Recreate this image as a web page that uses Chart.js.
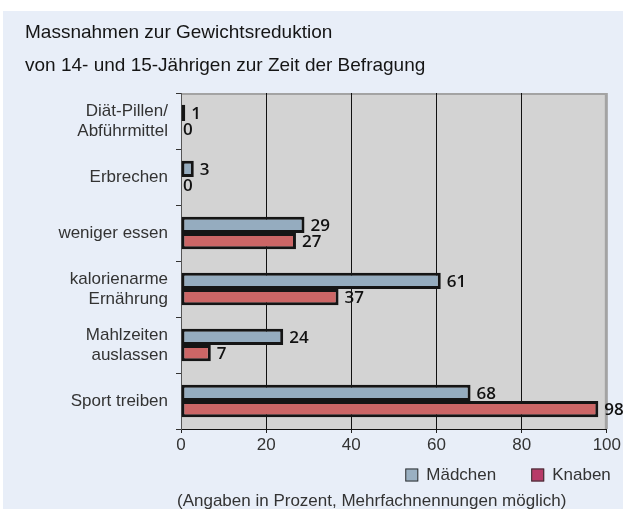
<!DOCTYPE html>
<html>
<head>
<meta charset="utf-8">
<script src="https://cdn.jsdelivr.net/npm/chart.js@4/dist/chart.umd.min.js"></script>
<style>
  html, body { margin: 0; padding: 0; background: #fff; }
  #panel { position: absolute; left: 3px; top: 11px; width: 620px; height: 498px; background: #e8eef8; }
  #wrap { position: absolute; left: 0; top: 0; width: 623px; height: 509px; }
</style>
</head>
<body>
<div id="panel"></div>
<div id="wrap"><canvas id="chart"></canvas></div>
<script>
const categories = [
  ['Diät-Pillen/', 'Abführmittel'],
  'Erbrechen',
  'weniger essen',
  ['kalorienarme', 'Ernährung'],
  ['Mahlzeiten', 'auslassen'],
  'Sport treiben'
];
const maedchen = [1, 3, 29, 61, 24, 68];
const knaben = [0, 0, 27, 37, 7, 98];
const xTicks = [0, 20, 40, 60, 80, 100];
const seriesNames = ['Mädchen', 'Knaben'];
const titleLines = ['Massnahmen zur Gewichtsreduktion', 'von 14- und 15-Jährigen zur Zeit der Befragung'];
const footnote = '(Angaben in Prozent, Mehrfachnennungen möglich)';

const FONT = '"Liberation Sans", Arial, sans-serif';
const legendColors = ['#9ab0c2', '#b83a68'];

// grey plot area with the darker edge on top and right
const plotBackground = {
  id: 'plotBackground',
  beforeDraw(chart) {
    const { ctx, chartArea: a } = chart;
    ctx.save();
    ctx.fillStyle = '#d3d3d3';
    ctx.fillRect(a.left, a.top, a.right - a.left, a.bottom - a.top);
    ctx.fillStyle = '#a3a3a3';
    ctx.fillRect(a.left, a.top, a.right - a.left, 2);
    ctx.fillRect(a.right - 2, a.top, 3, a.bottom - a.top);
    ctx.restore();
  }
};

// numbers next to the bar ends
const valueLabels = {
  id: 'valueLabels',
  afterDatasetsDraw(chart) {
    const ctx = chart.ctx;
    ctx.save();
    ctx.font = '600 17px "Open Sans", sans-serif';
    ctx.fillStyle = '#111';
    ctx.textBaseline = 'middle';
    ctx.textAlign = 'left';
    chart.data.datasets.forEach((ds, i) => {
      chart.getDatasetMeta(i).data.forEach((bar, j) => {
        const v = ds.data[j];
        const x = v === 0 ? bar.base + 2 : bar.x + 6;
        ctx.fillText(String(v), x, bar.y + 1);
      });
    });
    ctx.restore();
  }
};

// legend at bottom right and the footnote
const bottomLegend = {
  id: 'bottomLegend',
  afterDraw(chart) {
    const { ctx, chartArea } = chart;
    ctx.save();
    ctx.font = '17px ' + FONT;
    ctx.textBaseline = 'middle';
    ctx.textAlign = 'left';
    const y = chartArea.bottom + 46;
    let x = chartArea.right + 4;
    for (let i = seriesNames.length - 1; i >= 0; i--) {
      x -= ctx.measureText(seriesNames[i]).width;
      ctx.fillStyle = '#333';
      ctx.fillText(seriesNames[i], x, y);
      x -= 8 + 13;
      ctx.fillStyle = legendColors[i];
      ctx.fillRect(x, y - 6.5, 13, 13);
      ctx.strokeStyle = '#333';
      ctx.lineWidth = 1;
      ctx.strokeRect(x + 0.5, y - 6, 12, 12);
      x -= 35;
    }
    ctx.fillStyle = '#333';
    ctx.fillText(footnote, 177, chartArea.bottom + 72);
    ctx.restore();
  }
};

new Chart(document.getElementById('chart'), {
  type: 'bar',
  data: {
    labels: categories,
    datasets: [
      { label: seriesNames[0], data: maedchen, backgroundColor: '#95acbf' },
      { label: seriesNames[1], data: knaben, backgroundColor: '#cc6666' }
    ]
  },
  options: {
    indexAxis: 'y',
    responsive: true,
    maintainAspectRatio: false,
    animation: false,
    layout: { padding: { top: 0, left: 25, right: 14, bottom: 53.6 } },
    datasets: {
      bar: {
        borderColor: '#151515',
        borderWidth: 3,
        borderSkipped: false,
        barPercentage: 1,
        categoryPercentage: 0.58
      }
    },
    plugins: {
      legend: { display: false },
      tooltip: { enabled: false },
      title: {
        display: true,
        text: titleLines,
        align: 'start',
        color: '#151515',
        font: { family: FONT, size: 19, weight: 'normal', lineHeight: 33 / 19 },
        padding: { top: 16.5, bottom: 10.5 }
      }
    },
    scales: {
      x: {
        min: 0,
        max: 100,
        afterBuildTicks: s => { s.ticks = xTicks.map(v => ({ value: v })); },
        afterFit: s => { s.height = 26.4; },
        ticks: { font: { family: FONT, size: 17 }, color: '#333', padding: 2 },
        grid: {
          color: c => (c.tick && (c.tick.value === 0 || c.tick.value === 100)) ? 'rgba(0,0,0,0)' : '#111',
          tickColor: '#222',
          tickLength: 4,
          lineWidth: 1
        },
        border: { color: '#111', width: 1 }
      },
      y: {
        afterFit: s => { s.width = 156; },
        ticks: { font: { family: FONT, size: 17, lineHeight: 20 / 17 }, color: '#333', padding: 8 },
        grid: { drawOnChartArea: false, tickLength: 5, color: '#333' },
        border: { color: '#555', width: 1 }
      }
    }
  },
  plugins: [plotBackground, valueLabels, bottomLegend]
});
</script>
</body>
</html>
